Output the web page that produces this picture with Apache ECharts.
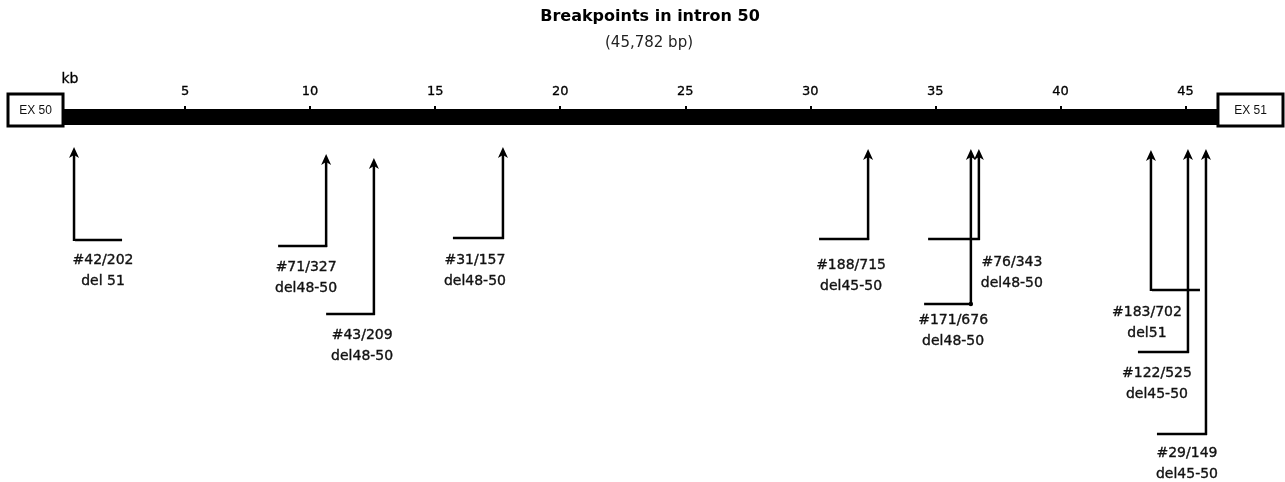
<!DOCTYPE html>
<html><head><meta charset="utf-8">
<script src="https://cdn.jsdelivr.net/npm/echarts@6/dist/echarts.min.js"></script>
<style>html,body{margin:0;padding:0;background:#fff}#c{width:1285px;height:482px}</style>
</head><body><div id="c"></div>
<script>
// ---- data ----
const tickValues = [5, 10, 15, 20, 25, 30, 35, 40, 45];
const intronLengthKb = 45.782;
const sampleIds = ['#42/202', '#71/327', '#43/209', '#31/157', '#188/715', '#171/676', '#76/343', '#183/702', '#122/525', '#29/149'];
const deletions = ['del 51', 'del48-50', 'del48-50', 'del48-50', 'del45-50', 'del48-50', 'del48-50', 'del51', 'del45-50', 'del45-50'];
const breakpointKb = [0.56, 10.64, 12.55, 17.71, 32.31, 36.42, 36.74, 43.62, 45.10, 45.82];

// ---- layout (axis units: x in kb, y in depth below the intron bar) ----
const tipDepth = [38, 45, 49, 38, 40, 40, 40, 41, 40, 40];
const legDepth = [130, 136, 204, 128, 129, 194, 129, 180, 242, 324];
const legEndKb = [2.48, 8.72, 10.64, 15.71, 30.35, 34.55, 34.71, 45.58, 43.10, 43.86];
const labelKb = [1.72, 9.84, 12.08, 16.59, 31.63, 35.71, 38.06, 43.46, 43.86, 45.06];
const labelDepth = [150, 157, 225, 150, 155, 210, 152, 202, 263, 343];
const cornerDot = [false, false, false, false, false, true, false, false, false, false];
const exonNames = ['EX 50', 'EX 51'];
const exonStartKb = [-2.08, 46.30];
const exonEndKb = [0.12, 48.90];

const chart = echarts.init(document.getElementById('c'), null, {renderer: 'canvas'});
const LABEL_FONT = '14px "DejaVu Sans"';

const option = {
  animation: false,
  backgroundColor: '#fff',
  grid: {left: 0, right: 0, top: 110, bottom: 0, containLabel: false, outerBoundsMode: 'none'},
  xAxis: {
    type: 'value', position: 'top', min: -2.4, max: 48.98,
    axisLine: {show: false, onZero: false},
    splitLine: {show: false},
    axisTick: {show: true, inside: false, length: 4, customValues: tickValues, lineStyle: {color: '#000', width: 2}},
    axisLabel: {show: true, customValues: tickValues, margin: 12, color: '#000', fontSize: 13, fontFamily: 'DejaVu Sans', textBorderColor: '#000', textBorderWidth: 0.3}
  },
  yAxis: {type: 'value', inverse: true, min: 0, max: 372, show: false},
  graphic: [
    {type: 'text', x: 650, y: 17, style: {text: 'Breakpoints in intron 50', align: 'center', verticalAlign: 'middle', font: 'bold 16px "DejaVu Sans"', fill: '#000'}},
    {type: 'text', x: 649, y: 43, style: {text: '(45,782 bp)', align: 'center', verticalAlign: 'middle', font: '15px "DejaVu Sans"', fill: '#222'}},
    {type: 'text', x: 70, y: 79, style: {text: 'kb', align: 'center', verticalAlign: 'middle', font: '14px "DejaVu Sans"', fill: '#000', stroke: '#000', lineWidth: 0.3}}
  ],
  series: [
    {
      type: 'custom', z: 3, clip: false,
      data: [[0]],
      renderItem: function (params, api) {
        const children = [];
        const b0 = api.coord([exonEndKb[0], -1]);
        const b1 = api.coord([exonStartKb[1], 15]);
        children.push({type: 'rect', shape: {x: b0[0], y: b0[1], width: b1[0] - b0[0], height: b1[1] - b0[1]}, style: {fill: '#000'}});
        for (let k = 0; k < exonNames.length; k++) {
          const p0 = api.coord([exonStartKb[k], -16]);
          const p1 = api.coord([exonEndKb[k], 16]);
          children.push({type: 'rect', shape: {x: p0[0], y: p0[1], width: p1[0] - p0[0], height: p1[1] - p0[1]}, style: {fill: '#fff', stroke: '#000', lineWidth: 3}});
          children.push({type: 'text', x: (p0[0] + p1[0]) / 2, y: (p0[1] + p1[1]) / 2 + 1, style: {text: exonNames[k], align: 'center', verticalAlign: 'middle', font: '12px "Liberation Sans"', fill: '#111'}});
        }
        return {type: 'group', children: children};
      }
    },
    {
      type: 'custom', z: 4, clip: false,
      data: sampleIds.map(function (_, i) { return [i]; }),
      renderItem: function (params, api) {
        const i = api.value(0);
        const bx = breakpointKb[i];
        const tip = api.coord([bx, tipDepth[i]]);
        const leg = api.coord([bx, legDepth[i]]);
        const le = api.coord([legEndKb[i], legDepth[i]]);
        const lab = api.coord([labelKb[i], labelDepth[i]]);
        const children = [
          {type: 'line', shape: {x1: leg[0], y1: leg[1] + 1, x2: tip[0], y2: tip[1] + 5}, style: {stroke: '#000', lineWidth: 2.5}},
          {type: 'line', shape: {x1: le[0], y1: leg[1], x2: leg[0] + 1, y2: leg[1]}, style: {stroke: '#000', lineWidth: 2.5}},
          {type: 'polygon', shape: {points: [[tip[0], tip[1] - 1], [tip[0] - 5, tip[1] + 10], [tip[0], tip[1] + 7], [tip[0] + 5, tip[1] + 10]]}, style: {fill: '#000'}},
          {type: 'text', x: lab[0], y: lab[1] - 10, style: {text: sampleIds[i] + '\n' + deletions[i], align: 'center', verticalAlign: 'top', font: LABEL_FONT, lineHeight: 21, fill: '#111', stroke: '#111', lineWidth: 0.35}}
        ];
        if (cornerDot[i]) {
          children.push({type: 'circle', shape: {cx: leg[0], cy: leg[1], r: 2.2}, style: {fill: '#000'}});
        }
        return {type: 'group', children: children};
      }
    }
  ]
};
chart.setOption(option);
</script>
</body></html>
